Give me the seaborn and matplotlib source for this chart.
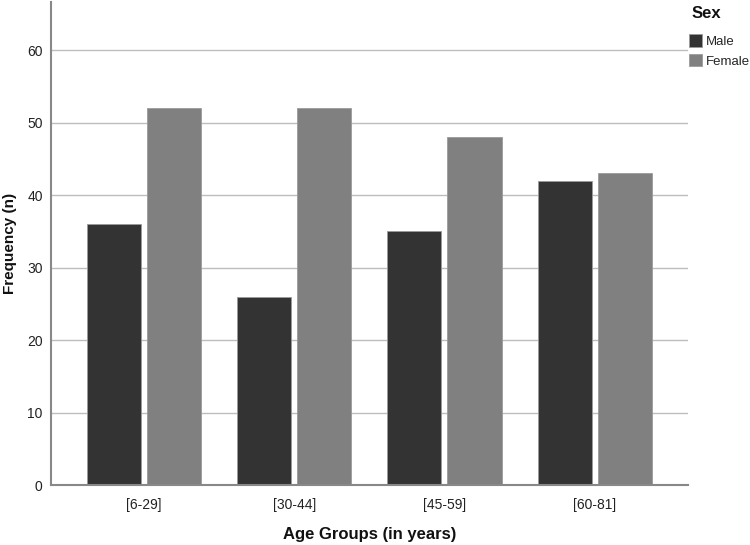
import matplotlib
matplotlib.use("Agg")
import matplotlib.pyplot as plt
import seaborn as sns
import pandas as pd
from matplotlib.patches import Patch

categories = ["[6-29]", "[30-44]", "[45-59]", "[60-81]"]
male = [36, 26, 35, 42]
female = [52, 52, 48, 43]
sexes = ["Male", "Female"]
yticks = [0, 10, 20, 30, 40, 50, 60]

rows = []
for c, m, f in zip(categories, male, female):
    rows.append({"Age": c, "Sex": "Male", "n": m})
    rows.append({"Age": c, "Sex": "Female", "n": f})
df = pd.DataFrame(rows)

sns.set_style("white")
plt.rcParams["font.family"] = ["Liberation Sans", "DejaVu Sans"]

colors = {"Male": "#333333", "Female": "#808080"}

fig = plt.figure(figsize=(7.5, 5.45), dpi=100)
ax = fig.add_axes([0.068, 0.110, 0.849, 0.886])
ax.set_axisbelow(True)
for y in yticks[1:]:
    ax.axhline(y, color="#bdbdbd", lw=1.0, zorder=0)

sns.barplot(data=df, x="Age", y="n", hue="Sex", hue_order=sexes,
            palette=colors, width=0.8, gap=0.1, ax=ax,
            edgecolor="#9a9a9a", linewidth=0.6, legend=False, zorder=2)

ax.set_xlim(-0.62, 3.62)
ax.set_ylim(0, 66.6)
ax.set_yticks(yticks)
ax.set_yticklabels([str(v) for v in yticks], fontsize=10)
ax.tick_params(axis="both", length=0, pad=6, labelsize=10, colors="#222222")
ax.tick_params(axis="x", pad=9)
ax.set_xlabel("")
ax.set_ylabel("")
fig.text(370 / 750, 1 - 535 / 545, "Age Groups (in years)", fontsize=12,
         fontweight="bold", ha="center", va="center", color="#111111")
fig.text(10 / 750, 1 - 243 / 545, "Frequency (n)", fontsize=11,
         fontweight="bold", ha="center", va="center", rotation=90, color="#111111")

for s in ["top", "right"]:
    ax.spines[s].set_visible(False)
for s in ["left", "bottom"]:
    ax.spines[s].set_color("#888888")
    ax.spines[s].set_linewidth(1.5)

fig.text(692 / 750, 1 - 13 / 545, "Sex", fontsize=12, fontweight="bold",
         ha="left", va="center", color="#111111")
handles = [Patch(facecolor=colors[s], edgecolor="#9a9a9a", linewidth=0.6, label=s) for s in sexes]
leg = fig.legend(handles=handles, loc="upper left",
                 bbox_to_anchor=(689 / 750, 1 - 34 / 545), frameon=False, fontsize=9.5,
                 handlelength=1.0, handleheight=1.1, handletextpad=0.25,
                 labelspacing=0.45, borderaxespad=0, borderpad=0)

fig.savefig("out.png", dpi=100)
